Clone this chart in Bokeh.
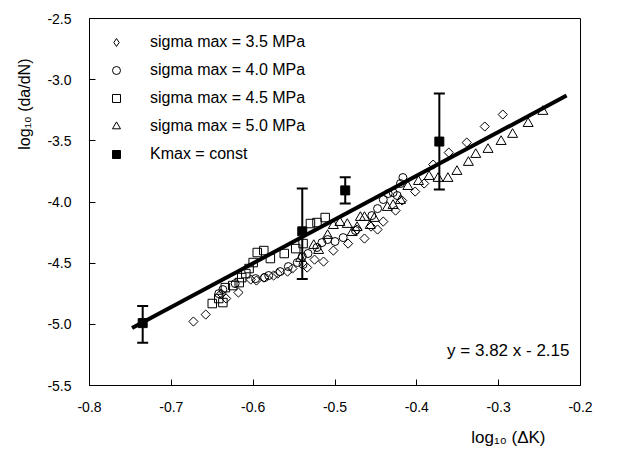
import numpy as np
from bokeh.plotting import figure
from bokeh.models import (Range1d, FixedTicker, PrintfTickFormatter, Label, Legend,
                          LegendItem, Whisker, ColumnDataSource, TeeHead, Title)
from bokeh.embed import file_html
from bokeh.resources import INLINE

# ---------------- data ----------------
s35_x = [-0.673, -0.658, -0.639, -0.633, -0.618, -0.603, -0.596, -0.587, -0.575, -0.570,
         -0.558, -0.552, -0.534, -0.525, -0.514, -0.502, -0.484, -0.473, -0.464, -0.456,
         -0.448, -0.441, -0.426, -0.418, -0.402, -0.391, -0.380, -0.361, -0.339, -0.317, -0.295]
s35_y = [-4.977, -4.920, -4.749, -4.789, -4.740, -4.634, -4.642, -4.618, -4.601, -4.585,
         -4.569, -4.544, -4.536, -4.471, -4.487, -4.397, -4.340, -4.225, -4.299, -4.201,
         -4.225, -4.160, -4.070, -3.988, -3.915, -3.849, -3.694, -3.596, -3.514, -3.383, -3.285]

s40_x = [-0.642, -0.637, -0.622, -0.597, -0.586, -0.581, -0.567, -0.557, -0.546, -0.540,
         -0.539, -0.533, -0.522, -0.516, -0.509, -0.500, -0.490, -0.475, -0.455, -0.448,
         -0.441, -0.435, -0.429, -0.424, -0.420, -0.417]
s40_y = [-4.749, -4.716, -4.667, -4.626, -4.618, -4.601, -4.569, -4.528, -4.495, -4.446,
         -4.511, -4.421, -4.372, -4.332, -4.307, -4.323, -4.291, -4.233, -4.111, -4.054,
         -3.980, -3.931, -3.923, -3.947, -3.849, -3.800]

s45_x = [-0.650, -0.642, -0.637, -0.634, -0.625, -0.617, -0.614, -0.609, -0.605, -0.600,
         -0.595, -0.587, -0.579, -0.562, -0.548, -0.539, -0.530, -0.522, -0.512]
s45_y = [-4.830, -4.789, -4.822, -4.700, -4.683, -4.659, -4.618, -4.585, -4.544, -4.495,
         -4.413, -4.397, -4.462, -4.421, -4.381, -4.340, -4.176, -4.168, -4.127]

s50_x = [-0.542, -0.526, -0.520, -0.509, -0.502, -0.494, -0.485, -0.479, -0.473, -0.469,
         -0.464, -0.457, -0.452, -0.436, -0.429, -0.420, -0.411, -0.398, -0.385, -0.374,
         -0.362, -0.351, -0.337, -0.328, -0.313, -0.297, -0.283, -0.264, -0.246]
s50_y = [-4.462, -4.356, -4.397, -4.274, -4.193, -4.168, -4.184, -4.250, -4.209, -4.127,
         -4.127, -4.193, -4.135, -4.045, -4.029, -3.988, -3.874, -3.833, -3.792, -3.808,
         -3.808, -3.751, -3.677, -3.612, -3.571, -3.506, -3.448, -3.359, -3.260]

kmax_x = [-0.735, -0.540, -0.4875, -0.3725]
kmax_y = [-4.99, -4.24, -3.905, -3.506]
kmax_lo = [-5.15, -4.63, -4.013, -3.898]
kmax_hi = [-4.85, -3.89, -3.798, -3.113]

fit_x = [-0.748, -0.217]
fit_y = [-5.03, -3.13]

x_ticks = [-0.8, -0.7, -0.6, -0.5, -0.4, -0.3, -0.2]
y_ticks = [-5.5, -5.0, -4.5, -4.0, -3.5, -3.0, -2.5]

labels = ["sigma max = 3.5 MPa", "sigma max = 4.0 MPa", "sigma max = 4.5 MPa",
          "sigma max = 5.0 MPa", "Kmax = const"]
fit_text = "y = 3.82 x - 2.15"
x_title = "log\u2081\u2080 (\u0394K)"
y_title = "log\u2081\u2080 (da/dN)"

FONT = "Liberation Sans"

# ---------------- figure ----------------
p = figure(width=631, height=458, output_backend="svg", toolbar_location=None,
           x_range=Range1d(-0.8, -0.2), y_range=Range1d(-5.5, -2.5),
           min_border_left=89, min_border_right=51, min_border_top=18, min_border_bottom=73)
p.background_fill_color = "white"
p.border_fill_color = "white"
p.outline_line_color = "black"
p.outline_line_width = 1
p.xgrid.visible = False
p.ygrid.visible = False

for ax, ticks in ((p.xaxis[0], x_ticks), (p.yaxis[0], y_ticks)):
    ax.ticker = FixedTicker(ticks=ticks)
    ax.formatter = PrintfTickFormatter(format="%.1f")
    ax.major_tick_in = 6
    ax.major_tick_out = 0
    ax.minor_tick_line_color = None
    ax.axis_line_color = "black"
    ax.major_tick_line_color = "black"
    ax.major_label_text_font = FONT
    ax.major_label_text_font_size = "14px"
    ax.major_label_text_color = "black"
p.xaxis.major_label_standoff = 16
p.yaxis.major_label_standoff = 18

common = dict(line_color="black", line_width=1)
# 3.5 MPa: square rotated 45 degrees -> diamond shape in the plot
r35 = p.scatter(s35_x, s35_y, marker="square", angle=np.pi / 4, size=6.5,
                fill_color=None, **common)
# hidden twin used only as the legend swatch (the legend does not rotate markers)
r35_leg = p.scatter(s35_x, s35_y, marker="diamond", size=10, fill_color=None,
                    visible=False, **common)
r40 = p.scatter(s40_x, s40_y, marker="circle", size=8, fill_color=None, **common)
r45 = p.scatter(s45_x, s45_y, marker="square", size=8.5, fill_color=None, **common)
r50 = p.scatter(s50_x, s50_y, marker="triangle", size=10, fill_color=None, **common)

p.line(fit_x, fit_y, line_color="black", line_width=4)

src = ColumnDataSource(dict(x=kmax_x, y=kmax_y, lo=kmax_lo, hi=kmax_hi))
wh = Whisker(source=src, base="x", lower="lo", upper="hi", dimension="height",
             line_color="black", line_width=2,
             upper_head=TeeHead(size=11, line_width=2, line_color="black"),
             lower_head=TeeHead(size=11, line_width=2, line_color="black"))
p.add_layout(wh)
rk = p.scatter("x", "y", source=src, marker="square", size=9,
               fill_color="black", line_color="black")

legend = Legend(items=[LegendItem(label=labels[0], renderers=[r35_leg]),
                       LegendItem(label=labels[1], renderers=[r40]),
                       LegendItem(label=labels[2], renderers=[r45]),
                       LegendItem(label=labels[3], renderers=[r50]),
                       LegendItem(label=labels[4], renderers=[rk])],
                location=(17, 221), border_line_color=None, background_fill_alpha=0,
                padding=5, spacing=8, glyph_height=20, glyph_width=20, label_height=20,
                label_standoff=24, margin=0, inactive_fill_alpha=0,
                label_text_font=FONT, label_text_font_size="16px", label_text_color="black")
p.add_layout(legend)

p.add_layout(Label(x=-0.363, y=-5.215, text=fit_text, text_font=FONT, text_color="black",
                   text_font_size="17px", text_baseline="middle", text_align="left"))

xt = Title(text=x_title, align="right", offset=35, standoff=22, text_font=FONT,
           text_font_size="17px", text_font_style="normal", text_color="black")
p.add_layout(xt, "below")
yt = Title(text=y_title, align="right", offset=40, standoff=24, text_font=FONT,
           text_font_size="16px", text_font_style="normal", text_color="black")
p.add_layout(yt, "left")

open("out.html", "w").write(file_html(p, INLINE))
